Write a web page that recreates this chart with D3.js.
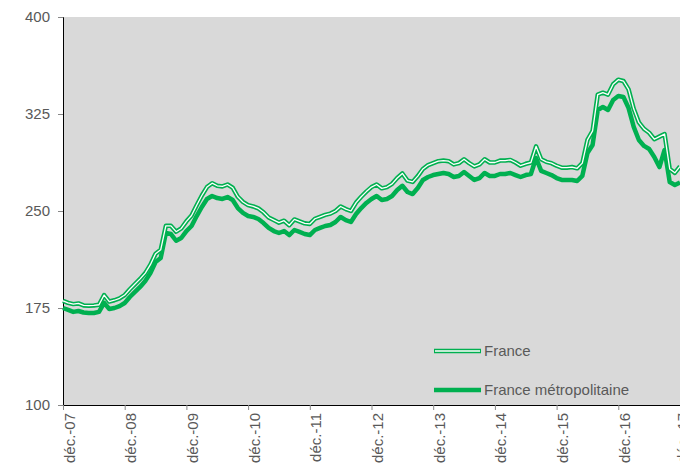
<!DOCTYPE html>
<html>
<head>
<meta charset="utf-8">
<script src="https://cdn.jsdelivr.net/npm/d3@7"></script>
<style>
  body { margin: 0; background: #fff; }
  text { font-family: "Liberation Sans", Arial, sans-serif; }
</style>
</head>
<body>
<div id="chart"></div>
<script>
// Monthly index values, déc.-07 .. déc.-17
const seriesNames = ['France', 'France métropolitaine'];

const franceValues = [
  180.5, 179.0, 178.0, 178.5, 177.0, 176.8, 177.0, 177.5, 185.0, 180.0, 181.0, 182.5,
  185.0, 189.5, 193.5, 197.5, 202.0, 208.5, 217.0, 220.0, 238.5, 238.5, 234.0, 236.5,
  242.0, 246.5, 254.5, 262.0, 268.5, 271.5, 269.5, 269.0, 270.5, 268.0, 261.0, 257.0,
  254.5, 253.5, 252.0, 249.0, 245.0, 243.0, 241.0, 242.5, 239.0, 243.5, 242.0, 240.5,
  240.0, 244.0, 245.5, 247.0, 248.0, 250.0, 253.5, 251.5, 250.0, 256.5, 261.0, 265.0,
  268.5, 270.5, 267.5, 268.5, 271.0, 275.5, 279.0, 273.5, 272.5, 277.0, 282.5, 285.5,
  287.0, 288.5, 289.0, 288.5, 286.0, 287.0, 290.0, 287.0, 284.5, 286.0, 290.0, 287.5,
  287.5, 289.0, 289.0, 289.5, 287.5, 285.0, 286.5, 287.5, 300.0, 290.0, 288.0, 287.0,
  285.0, 283.5, 283.5, 284.0, 283.0, 287.0, 305.0, 312.0, 340.0, 341.5, 340.0, 348.0,
  351.5, 350.5, 344.0, 329.0, 318.5, 313.5, 310.5, 305.5, 307.5, 309.5, 282.5, 279.5,
  284.5
];

const metroValues = [
  175.0, 173.5, 172.0, 172.7, 171.5, 171.1, 171.1, 172.0, 179.0, 174.2, 175.0, 176.5,
  178.9, 183.5, 187.4, 191.3, 195.9, 202.0, 210.5, 213.6, 233.0, 232.2, 227.0, 229.1,
  234.5, 238.4, 246.1, 253.1, 259.3, 261.6, 260.0, 259.3, 260.8, 258.5, 252.3, 248.5,
  246.1, 245.4, 243.8, 240.7, 236.9, 234.5, 233.0, 234.5, 231.4, 235.3, 233.8, 232.2,
  231.4, 235.3, 236.9, 238.4, 239.2, 241.5, 245.4, 243.0, 241.5, 247.7, 252.3, 256.2,
  259.3, 261.6, 258.5, 259.3, 261.6, 266.2, 269.5, 264.7, 263.1, 267.8, 274.0, 276.3,
  277.8, 278.6, 279.4, 278.6, 276.3, 277.1, 280.2, 277.1, 274.0, 275.5, 279.4, 277.1,
  277.1, 278.6, 278.6, 279.4, 277.8, 276.3, 277.8, 278.6, 291.0, 281.0, 279.4, 277.8,
  275.5, 274.0, 274.0, 274.0, 273.2, 277.1, 294.8, 301.0, 328.1, 330.4, 328.1, 335.8,
  338.9, 338.1, 329.6, 315.0, 304.9, 300.3, 297.9, 291.8, 284.0, 297.2, 272.4, 270.1,
  272.0
];

// Axis labels
const xLabels = ['déc.-07', 'déc.-08', 'déc.-09', 'déc.-10', 'déc.-11', 'déc.-12',
  'déc.-13', 'déc.-14', 'déc.-15', 'déc.-16', 'déc.-17'];
const yTicks = [100, 175, 250, 325, 400];

const width = 680;
const height = 468;
const margin = { top: 17, right: 0, bottom: 63, left: 63 };
const green = '#00B050';
const textColor = '#595959';

const innerWidth = width - margin.left - margin.right;
const innerHeight = height - margin.top - margin.bottom;

const svg = d3.select('#chart')
  .append('svg')
  .attr('width', width)
  .attr('height', height)
  .append('g')
  .attr('transform', `translate(${margin.left},${margin.top})`);

// Plot background
svg.append('rect')
  .attr('width', innerWidth)
  .attr('height', innerHeight)
  .attr('fill', '#D9D9D9');

// Scales
const x = d3.scaleLinear()
  .domain([0, metroValues.length - 1])
  .range([0, innerWidth]);

const y = d3.scaleLinear()
  .domain([100, 400])
  .range([innerHeight, 0]);

// Y axis
const yAxis = svg.append('g')
  .call(d3.axisLeft(y).tickValues(yTicks).tickSize(5).tickPadding(8));
yAxis.select('.domain').attr('stroke', '#000');
yAxis.selectAll('.tick line').attr('stroke', '#888');
yAxis.selectAll('.tick text')
  .style('font-size', '15px')
  .attr('fill', textColor);

// X axis (last label is pushed against the right edge, partly cut like the original)
const xAxis = svg.append('g')
  .attr('transform', `translate(0,${innerHeight})`)
  .call(d3.axisBottom(x)
    .tickValues(xLabels.map((d, i) => i * 12))
    .tickSize(5)
    .tickFormat((d, i) => xLabels[i]));
xAxis.select('.domain').attr('stroke', '#000');
xAxis.selectAll('.tick line').attr('stroke', '#888');
xAxis.selectAll('.tick text')
  .style('font-size', '15px')
  .attr('fill', textColor)
  .attr('text-anchor', 'end')
  .attr('dy', 0)
  .attr('y', 0)
  .attr('transform', (d, i) => i === xLabels.length - 1
    ? 'translate(7,8)rotate(-90)'
    : 'translate(11,8)rotate(-90)');

// Lines
const line = d3.line()
  .x((d, i) => x(i))
  .y(d => y(d));

svg.append('path')
  .datum(metroValues)
  .attr('fill', 'none')
  .attr('stroke', green)
  .attr('stroke-width', 4.5)
  .attr('stroke-linejoin', 'round')
  .attr('d', line);

svg.append('path')
  .datum(franceValues)
  .attr('fill', 'none')
  .attr('stroke', green)
  .attr('stroke-width', 4.5)
  .attr('stroke-linejoin', 'round')
  .attr('d', line);

svg.append('path')
  .datum(franceValues)
  .attr('fill', 'none')
  .attr('stroke', '#fff')
  .attr('stroke-width', 1.3)
  .attr('stroke-linejoin', 'round')
  .attr('d', line);

// Legend
const legend = svg.selectAll('.legend')
  .data(seriesNames)
  .enter()
  .append('g')
  .attr('class', 'legend')
  .attr('transform', (d, i) => `translate(371,${334 + i * 39})`);

legend.append('line')
  .attr('x1', 0)
  .attr('x2', 47)
  .attr('stroke', green)
  .attr('stroke-width', 4.5);

legend.filter((d, i) => i === 0)
  .append('line')
  .attr('x1', 1)
  .attr('x2', 46)
  .attr('stroke', '#fff')
  .attr('stroke-width', 1.3);

legend.append('text')
  .attr('x', 50)
  .attr('dy', '0.35em')
  .style('font-size', '15px')
  .attr('fill', textColor)
  .text(d => d);
</script>
</body>
</html>
